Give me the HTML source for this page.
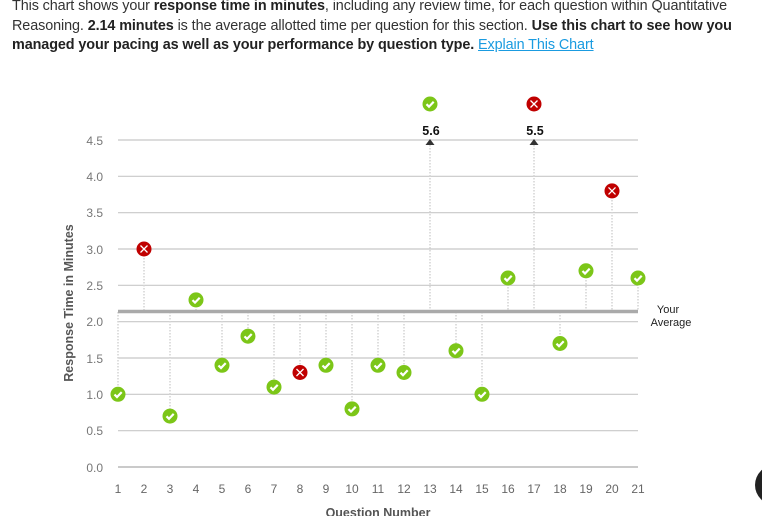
<!DOCTYPE html>
<html><head><meta charset="utf-8"><style>
body{margin:0;width:762px;height:516px;overflow:hidden;background:#fff;font-family:"Liberation Sans",sans-serif;}
.t{position:absolute;left:12px;top:-3px;white-space:nowrap;font-size:14.4px;line-height:19.5px;color:#333;letter-spacing:-0.1px}
.t b{color:#222}
.t a{color:#1a9be0;text-decoration:underline}
svg{position:absolute;left:0;top:0}
</style></head><body>
<div class="t">This chart shows your <b>response time in minutes</b>, including any review time, for each question within Quantitative<br>Reasoning. <b>2.14 minutes</b> is the average allotted time per question for this section. <b>Use this chart to see how you</b><br><b>managed your pacing as well as your performance by question type.</b> <a>Explain This Chart</a></div>
<svg width="762" height="516" font-family="Liberation Sans, sans-serif">
<defs>
<g id="ok"><circle r="7.5" fill="#7cc618"/><path d="M-3.5,0.2 L-1,2.7 L3.7,-2.2" stroke="#fff" stroke-width="2.2" fill="none"/></g>
<g id="no"><circle r="7.5" fill="#c00000"/><path d="M-3.5,-3.5 L3.5,3.5 M3.5,-3.5 L-3.5,3.5" stroke="#fff" stroke-width="1.3"/></g>
</defs>
<g stroke="#c8c8c8" stroke-width="1.2">
<line x1="118" x2="638" y1="140" y2="140"/><line x1="118" x2="638" y1="176.3" y2="176.3"/>
<line x1="118" x2="638" y1="212.7" y2="212.7"/><line x1="118" x2="638" y1="249" y2="249"/>
<line x1="118" x2="638" y1="285.3" y2="285.3"/><line x1="118" x2="638" y1="321.7" y2="321.7"/>
<line x1="118" x2="638" y1="358" y2="358"/><line x1="118" x2="638" y1="394.3" y2="394.3"/>
<line x1="118" x2="638" y1="430.7" y2="430.7"/><line x1="118" x2="638" y1="467" y2="467" stroke="#aaa"/>
</g>
<g stroke="#d4d4d4" stroke-width="1.5" stroke-dasharray="1.5,1.5">
<line x1="118" x2="118" y1="312" y2="394"/><line x1="144" x2="144" y1="249" y2="311"/>
<line x1="170" x2="170" y1="312" y2="416"/><line x1="196" x2="196" y1="300" y2="311"/>
<line x1="222" x2="222" y1="312" y2="365"/><line x1="248" x2="248" y1="312" y2="336"/>
<line x1="274" x2="274" y1="312" y2="387"/><line x1="300" x2="300" y1="312" y2="372"/>
<line x1="326" x2="326" y1="312" y2="365"/><line x1="352" x2="352" y1="312" y2="409"/>
<line x1="378" x2="378" y1="312" y2="365"/><line x1="404" x2="404" y1="312" y2="372"/>
<line x1="430" x2="430" y1="142" y2="311"/><line x1="456" x2="456" y1="312" y2="351"/>
<line x1="482" x2="482" y1="312" y2="394"/><line x1="508" x2="508" y1="278" y2="311"/>
<line x1="534" x2="534" y1="142" y2="311"/><line x1="560" x2="560" y1="312" y2="343"/>
<line x1="586" x2="586" y1="271" y2="311"/><line x1="612" x2="612" y1="191" y2="311"/>
<line x1="638" x2="638" y1="278" y2="311"/>
</g>
<line x1="118" x2="638" y1="311.5" y2="311.5" stroke="#aaa" stroke-width="3.5"/>
<g fill="#777" font-size="12" text-anchor="end">
<text x="103" y="145">4.5</text><text x="103" y="181">4.0</text><text x="103" y="217">3.5</text>
<text x="103" y="254">3.0</text><text x="103" y="290">2.5</text><text x="103" y="326">2.0</text>
<text x="103" y="363">1.5</text><text x="103" y="399">1.0</text><text x="103" y="435">0.5</text><text x="103" y="472">0.0</text>
</g>
<g fill="#666" font-size="12" text-anchor="middle">
<text x="118" y="493">1</text><text x="144" y="493">2</text><text x="170" y="493">3</text><text x="196" y="493">4</text>
<text x="222" y="493">5</text><text x="248" y="493">6</text><text x="274" y="493">7</text><text x="300" y="493">8</text>
<text x="326" y="493">9</text><text x="352" y="493">10</text><text x="378" y="493">11</text><text x="404" y="493">12</text>
<text x="430" y="493">13</text><text x="456" y="493">14</text><text x="482" y="493">15</text><text x="508" y="493">16</text>
<text x="534" y="493">17</text><text x="560" y="493">18</text><text x="586" y="493">19</text><text x="612" y="493">20</text>
<text x="638" y="493">21</text>
</g>
<text x="378" y="517" fill="#555" font-size="12.5" font-weight="bold" text-anchor="middle">Question Number</text>
<text transform="translate(73,303) rotate(-90)" fill="#555" font-size="12.5" font-weight="bold" text-anchor="middle">Response Time in Minutes</text>
<text x="668" y="313" fill="#222" font-size="11" text-anchor="middle">Your</text>
<text x="671" y="326" fill="#222" font-size="11" text-anchor="middle">Average</text>
<path d="M425.5,145 L430,139 L434.5,145Z M529.5,145 L534,139 L538.5,145Z" fill="#333"/>
<text x="431" y="135" font-size="12.5" font-weight="bold" fill="#111" text-anchor="middle">5.6</text>
<text x="535" y="135" font-size="12.5" font-weight="bold" fill="#111" text-anchor="middle">5.5</text>
<use href="#ok" x="118" y="394.3"/><use href="#no" x="144" y="249"/><use href="#ok" x="170" y="416.1"/>
<use href="#ok" x="196" y="299.9"/><use href="#ok" x="222" y="365.3"/><use href="#ok" x="248" y="336.2"/>
<use href="#ok" x="274" y="387.1"/><use href="#no" x="300" y="372.5"/><use href="#ok" x="326" y="365.3"/>
<use href="#ok" x="352" y="408.9"/><use href="#ok" x="378" y="365.3"/><use href="#ok" x="404" y="372.5"/>
<use href="#ok" x="430" y="104"/><use href="#ok" x="456" y="350.7"/><use href="#ok" x="482" y="394.3"/>
<use href="#ok" x="508" y="278"/><use href="#no" x="534" y="104"/><use href="#ok" x="560" y="343.5"/>
<use href="#ok" x="586" y="270.8"/><use href="#no" x="612" y="190.9"/><use href="#ok" x="638" y="278"/>
<circle cx="775" cy="485" r="20" fill="#222"/>
</svg>
</body></html>
